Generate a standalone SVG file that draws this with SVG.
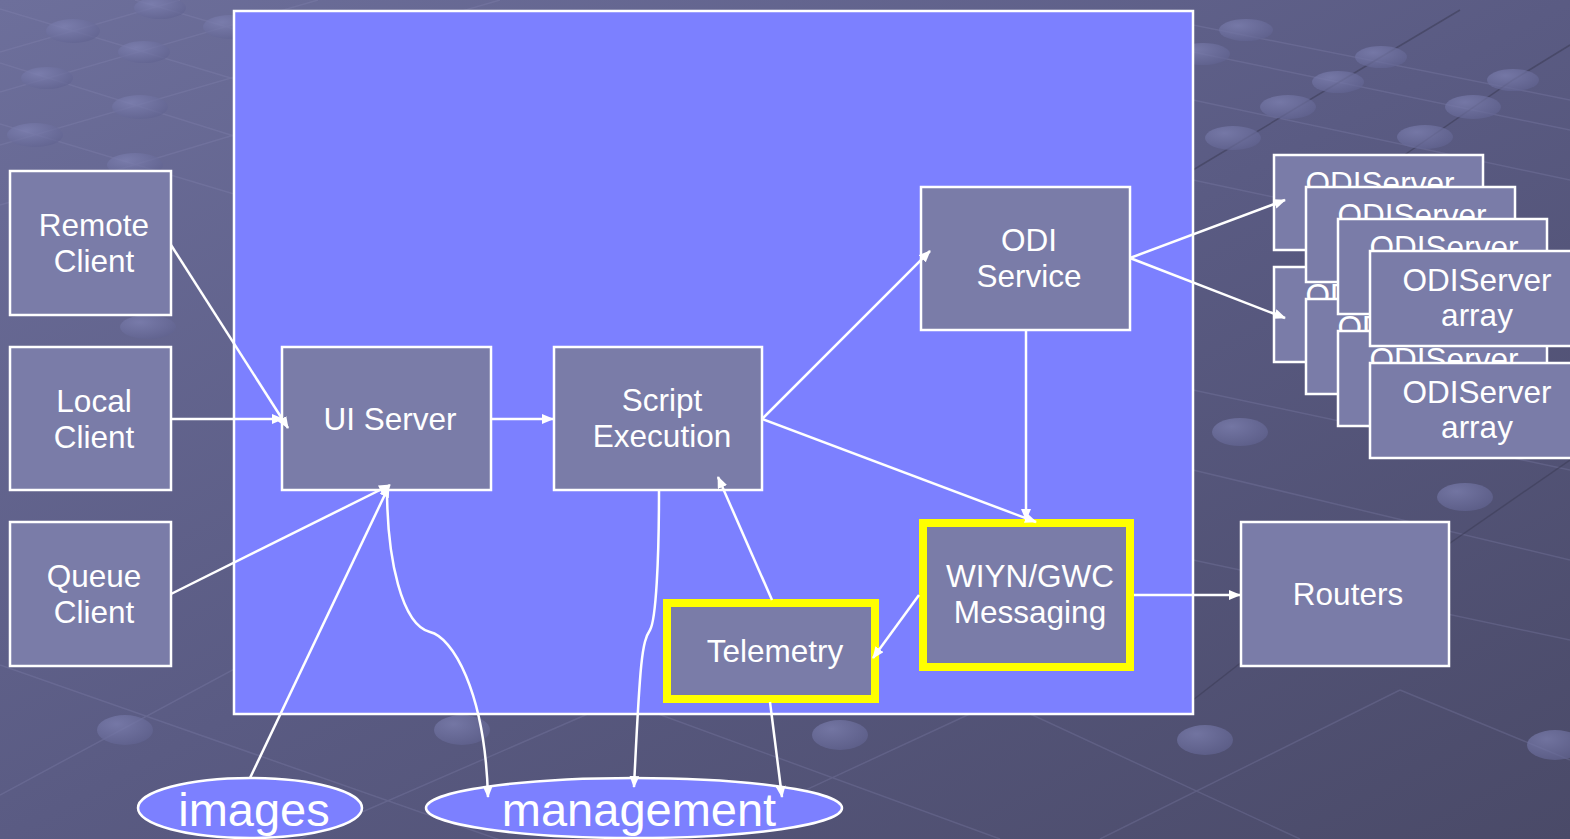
<svg xmlns="http://www.w3.org/2000/svg" width="1570" height="839" viewBox="0 0 1570 839">
<defs>
<linearGradient id="bg" x1="0" y1="0" x2="1" y2="1">
<stop offset="0" stop-color="#6D6F9B"/>
<stop offset="0.5" stop-color="#5A5B83"/>
<stop offset="1" stop-color="#4A4A68"/>
</linearGradient>
<radialGradient id="dot" cx="0.35" cy="0.3" r="0.8">
<stop offset="0" stop-color="#8083B4"/>
<stop offset="1" stop-color="#5F618E"/>
</radialGradient>
<marker id="arr" viewBox="0 0 12 10" refX="11" refY="5" markerWidth="12" markerHeight="10" markerUnits="userSpaceOnUse" orient="auto">
<path d="M0,0 L12,5 L0,10 z" fill="#FFFFFF"/>
</marker>
</defs>
<style>
.node{fill:#7A7CA8;stroke:#FFFFFF;stroke-width:2.5}
.hl{fill:#7A7CA8;stroke:#FFFF00;stroke-width:8}
.t{font-family:"Liberation Sans",Arial,sans-serif;font-size:31.5px;fill:#FFFFFF;text-anchor:middle}
.big{font-family:"Liberation Sans",Arial,sans-serif;font-size:47px;fill:#FFFFFF;text-anchor:middle}
.c{fill:none;stroke:#FFFFFF;stroke-width:2.5;marker-end:url(#arr)}
.gl{stroke:#8A8CB8;stroke-opacity:0.25;stroke-width:1.5;fill:none}
.dl{stroke:#3E3E58;stroke-opacity:0.6;stroke-width:1.5;fill:none}
.d{fill:url(#dot);opacity:0.7}
</style>
<rect width="1570" height="839" fill="url(#bg)"/>
<g id="background-pattern">
<path class="gl" d="M0,9 L234,79 M0,63 L234,136 M0,124 L234,194 M135,0 L234,29 M0,92 L318,0 M0,145 L500,0 M0,205 L234,135 M0,52 L180,0 M0,665 L500,840 M0,795 L400,580 M300,839 L620,700 M620,700 L1000,839 M700,839 L1000,700 M1000,700 L1300,839 M1100,839 L1400,690 M1400,690 L1570,760 M1193,25 L1570,100 M1193,52 L1570,130 M1193,100 L1570,180 M1193,180 L1570,260 M1193,390 L1570,470 M1193,470 L1570,560 M1193,560 L1570,640"/>
<path class="dl" d="M1193,170 L1381,57 L1460,10 M1390,165 L1513,80 L1570,45 M1440,550 L1570,460 M1193,700 L1270,640"/>
<ellipse class="d" cx="160" cy="8" rx="26" ry="11"/>
<ellipse class="d" cx="73" cy="31" rx="27" ry="12"/>
<ellipse class="d" cx="230" cy="27" rx="27" ry="12"/>
<ellipse class="d" cx="144" cy="52" rx="26" ry="11"/>
<ellipse class="d" cx="47" cy="78" rx="26" ry="11"/>
<ellipse class="d" cx="140" cy="107" rx="28" ry="12"/>
<ellipse class="d" cx="35" cy="135" rx="28" ry="12"/>
<ellipse class="d" cx="135" cy="165" rx="28" ry="12"/>
<ellipse class="d" cx="148" cy="327" rx="28" ry="12"/>
<ellipse class="d" cx="125" cy="730" rx="28" ry="15"/>
<ellipse class="d" cx="462" cy="730" rx="28" ry="15"/>
<ellipse class="d" cx="840" cy="735" rx="28" ry="15"/>
<ellipse class="d" cx="1205" cy="740" rx="28" ry="15"/>
<ellipse class="d" cx="1555" cy="745" rx="28" ry="15"/>
<ellipse class="d" cx="1246" cy="30" rx="27" ry="11"/>
<ellipse class="d" cx="1203" cy="54" rx="27" ry="11"/>
<ellipse class="d" cx="1381" cy="57" rx="26" ry="11"/>
<ellipse class="d" cx="1338" cy="82" rx="26" ry="11"/>
<ellipse class="d" cx="1288" cy="107" rx="28" ry="12"/>
<ellipse class="d" cx="1233" cy="138" rx="28" ry="12"/>
<ellipse class="d" cx="1513" cy="80" rx="26" ry="11"/>
<ellipse class="d" cx="1473" cy="107" rx="28" ry="12"/>
<ellipse class="d" cx="1425" cy="137" rx="28" ry="12"/>
<ellipse class="d" cx="1240" cy="432" rx="28" ry="14"/>
<ellipse class="d" cx="1465" cy="497" rx="28" ry="14"/>
</g>
<g id="system-boundary">
<rect x="234" y="11" width="959" height="703" fill="#7C80FF" stroke="#FFFFFF" stroke-width="2.5"/>
</g>
<g id="odiserver-array">
<rect class="node" x="1274" y="267" width="209" height="95"/><text class="t" x="1380" y="306">ODIServer<tspan x="1380" y="341">array</tspan></text>
<rect class="node" x="1306" y="299" width="209" height="95"/><text class="t" x="1412" y="338">ODIServer<tspan x="1412" y="373">array</tspan></text>
<rect class="node" x="1338" y="331" width="209" height="95"/><text class="t" x="1444" y="370">ODIServer<tspan x="1444" y="405">array</tspan></text>
<rect class="node" x="1274" y="155" width="209" height="95"/><text class="t" x="1380" y="194">ODIServer<tspan x="1380" y="229">array</tspan></text>
<rect class="node" x="1306" y="187" width="209" height="95"/><text class="t" x="1412" y="226">ODIServer<tspan x="1412" y="261">array</tspan></text>
<rect class="node" x="1338" y="219" width="209" height="95"/><text class="t" x="1444" y="258">ODIServer<tspan x="1444" y="293">array</tspan></text>
<rect class="node" x="1370" y="251" width="209" height="95"/><text class="t" x="1477" y="291">ODIServer<tspan x="1477" y="326">array</tspan></text>
<rect class="node" x="1370" y="363" width="209" height="95"/><text class="t" x="1477" y="403">ODIServer<tspan x="1477" y="438">array</tspan></text>
</g>
<g id="remote-client"><rect class="node" x="10" y="171" width="161" height="144"/><text class="t" x="94" y="236">Remote<tspan x="94" y="272">Client</tspan></text></g>
<g id="local-client"><rect class="node" x="10" y="347" width="161" height="143"/><text class="t" x="94" y="412">Local<tspan x="94" y="448">Client</tspan></text></g>
<g id="queue-client"><rect class="node" x="10" y="522" width="161" height="144"/><text class="t" x="94" y="587">Queue<tspan x="94" y="623">Client</tspan></text></g>
<g id="ui-server"><rect class="node" x="282" y="347" width="209" height="143"/><text class="t" x="390" y="430">UI Server</text></g>
<g id="script-execution"><rect class="node" x="554" y="347" width="208" height="143"/><text class="t" x="662" y="411">Script<tspan x="662" y="447">Execution</tspan></text></g>
<g id="odi-service"><rect class="node" x="921" y="187" width="209" height="143"/><text class="t" x="1029" y="251">ODI<tspan x="1029" y="287">Service</tspan></text></g>
<g id="wiyn-gwc-messaging"><rect class="hl" x="923" y="523" width="207" height="144"/><text class="t" x="1030" y="587">WIYN/GWC<tspan x="1030" y="623">Messaging</tspan></text></g>
<g id="telemetry"><rect class="hl" x="667" y="603" width="208" height="96"/><text class="t" x="775" y="662">Telemetry</text></g>
<g id="routers"><rect class="node" x="1241" y="522" width="208" height="144"/><text class="t" x="1348" y="605">Routers</text></g>
<g id="images"><ellipse cx="250" cy="808" rx="112" ry="30" fill="#7C80FF" stroke="#FFFFFF" stroke-width="2.5"/><text class="big" x="254" y="826">images</text></g>
<g id="management"><ellipse cx="634" cy="808" rx="208" ry="30" fill="#7C80FF" stroke="#FFFFFF" stroke-width="2.5"/><text class="big" x="639" y="826">management</text></g>
<g id="connectors">
<path class="c" d="M171,245 L288,428"/>
<path class="c" d="M171,419 L283,419"/>
<path class="c" d="M171,594 L390,485"/>
<path class="c" d="M250,778 L389,486"/>
<path class="c" d="M387,488 C387,560 402,625 430,632 C452,637 485,690 488,797"/>
<path class="c" d="M491,419 L553,419"/>
<path class="c" d="M762,419 L930,251"/>
<path class="c" d="M762,419 L1036,522"/>
<path class="c" d="M1026,330 L1026,520"/>
<path class="c" d="M1130,258 L1285,200"/>
<path class="c" d="M1130,258 L1285,318"/>
<path class="c" d="M772,600 L718,477"/>
<path class="c" d="M919,595 L873,658"/>
<path class="c" d="M1134,595 L1240,595"/>
<path class="c" d="M659,490 C659,560 656,620 650,630 C642,642 640,660 634,787"/>
<path class="c" d="M770,702 L782,797"/>
</g>
</svg>
